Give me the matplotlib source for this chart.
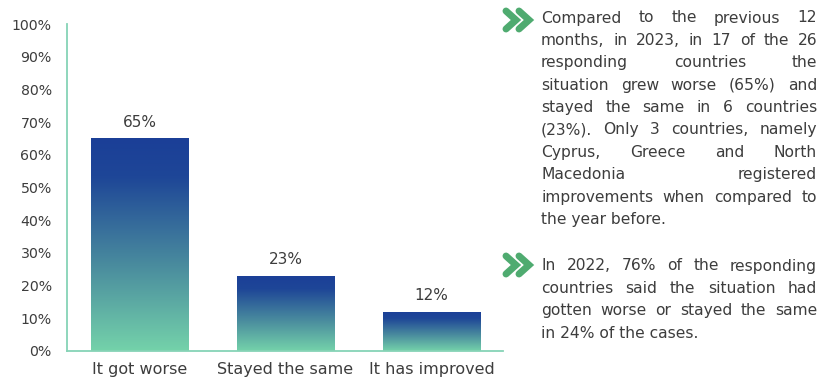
import numpy as np
import matplotlib
matplotlib.use("Agg")
import matplotlib.pyplot as plt
from matplotlib.colors import LinearSegmentedColormap
from matplotlib.lines import Line2D

# chart data
categories = ["It got worse", "Stayed the same", "It has improved"]
shares = [65, 23, 12]
yticks = [0, 10, 20, 30, 40, 50, 60, 70, 80, 90, 100]

# side notes, already broken into lines (last line of each note is not justified)
note_2023 = ["Compared to the previous 12",
             "months, in 2023, in 17 of the 26",
             "responding countries the",
             "situation grew worse (65%) and",
             "stayed the same in 6 countries",
             "(23%). Only 3 countries, namely",
             "Cyprus, Greece and North",
             "Macedonia registered",
             "improvements when compared to",
             "the year before."]
note_2022 = ["In 2022, 76% of the responding",
             "countries said the situation had",
             "gotten worse or stayed the same",
             "in 24% of the cases."]

W, H = 822, 380
TEXT = "#3d3d3d"
AXIS = "#86d3b6"
ARROW = "#4fab70"
plt.rcParams['font.family'] = ['DejaVu Sans']

fig = plt.figure(figsize=(W / 100, H / 100), dpi=100)
fig.patch.set_facecolor("white")

# axes box in pixels: left 67, right 503, top 24, bottom 351
ax = fig.add_axes([67 / W, 1 - 351 / H, (503 - 67) / W, (351 - 24) / H])

grad = LinearSegmentedColormap.from_list(
    "bar", [(0, "#74d2aa"), (0.4, "#4a8c9e"), (0.82, "#1e4697"), (1, "#1b3f97")])
g = np.linspace(0, 1, 256).reshape(-1, 1)

x = np.arange(len(categories))
bars = ax.bar(x, shares, width=0.665, color="none", edgecolor="none", zorder=2)
for b, v in zip(bars, shares):
    x0, w = b.get_x(), b.get_width()
    im = ax.imshow(g, cmap=grad, origin="lower", aspect="auto",
                   extent=[x0, x0 + w, 0, v], zorder=2)
    im.set_clip_path(b)
    ax.annotate(f"{v}%", (x0 + w / 2, v), xytext=(0, 6), textcoords="offset points",
                ha="center", va="bottom", fontsize=11, color=TEXT)

ax.set_xlim(-0.497, 2.49)
ax.set_ylim(0, 100)
ax.set_yticks(yticks)
ax.set_yticklabels([f"{t}%" for t in yticks])
ax.set_xticks(x)
ax.set_xticklabels(categories)
ax.tick_params(axis="y", length=0, pad=11, labelsize=10.2, labelcolor=TEXT)
ax.tick_params(axis="x", length=0, pad=8, labelsize=11.5, labelcolor=TEXT)
for side in ["top", "right"]:
    ax.spines[side].set_visible(False)
for side in ["left", "bottom"]:
    ax.spines[side].set_color(AXIS)
    ax.spines[side].set_linewidth(1.3)


def chevrons(cy):
    # double green arrow marker, coordinates in pixels from top-left
    for dx in (0, 13):
        xs = [506 + dx, 516 + dx, 506 + dx]
        ys = [cy - 9, cy, cy + 9]
        fig.add_artist(Line2D([v / W for v in xs], [1 - v / H for v in ys],
                              transform=fig.transFigure, color=ARROW, lw=5,
                              solid_capstyle="round", solid_joinstyle="miter"))


renderer = fig.canvas.get_renderer()


def justified(lines, y_first, step, x_left=541, x_right=817, size=11.2):
    for i, line in enumerate(lines):
        y = 1 - (y_first + i * step) / H
        words = line.split()
        last = i == len(lines) - 1
        if last or len(words) == 1:
            fig.text(x_left / W, y, line, fontsize=size, color=TEXT, va="center")
            continue
        arts = [fig.text(0, y, wd, fontsize=size, color=TEXT, va="center") for wd in words]
        widths = [a.get_window_extent(renderer).width for a in arts]
        gap = (x_right - x_left - sum(widths)) / (len(words) - 1)
        pos = x_left
        for a, wd in zip(arts, widths):
            a.set_x(pos / W)
            pos += wd + gap


chevrons(20)
chevrons(265)
justified(note_2023, 18, 22.4)
justified(note_2022, 266, 22.4)

fig.savefig("out.png", dpi=100, facecolor="white")
